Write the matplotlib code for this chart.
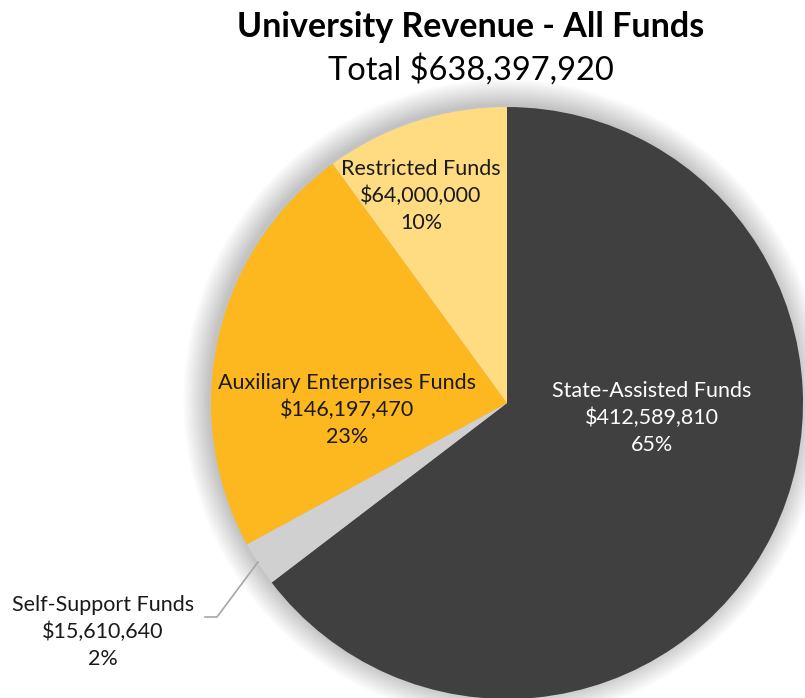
import matplotlib
matplotlib.use("Agg")
import matplotlib.pyplot as plt
from matplotlib.patches import Circle

plt.rcParams['font.family'] = ['Lato', 'DejaVu Sans']

categories = ["State-Assisted Funds", "Self-Support Funds",
              "Auxiliary Enterprises Funds", "Restricted Funds"]
values = [412589810, 15610640, 146197470, 64000000]
colors = ["#404040", "#D0D0D0", "#FDB71F", "#FFDC82"]
title = "University Revenue - All Funds"
total = sum(values)

W, H = 805, 698
fig = plt.figure(figsize=(W / 100, H / 100), dpi=100)
ax = fig.add_axes([0, 0, 1, 1])
ax.set_xlim(0, W)
ax.set_ylim(0, H)
ax.set_aspect('equal')
ax.axis('off')

cx, cy, r = 507, H - 403, 296

# soft shadow
for i in range(20):
    ax.add_patch(Circle((cx - 3, cy + 3), r + i * 1.3, color='black',
                        alpha=0.012, lw=0, zorder=0))

wedges, _ = ax.pie(values, colors=colors, startangle=90, counterclock=False,
                   center=(cx, cy), radius=r, frame=True,
                   wedgeprops=dict(linewidth=0, zorder=2))
ax.set_xlim(0, W)
ax.set_ylim(0, H)
ax.axis('off')

def lab(i, x, y):
    pct = round(values[i] / total * 100)
    txt = f"{categories[i]}\n${values[i]:,}\n{pct}%"
    ax.text(x, H - y, txt, ha='center', va='center', fontsize=15.5,
            color='#1a1a1a' if i != 0 else 'white', linespacing=1.45, zorder=5)

lab(0, 652, 418)
lab(1, 103, 632)
lab(2, 347, 410)
lab(3, 421, 196)

ax.plot([205, 217, 258], [H - 617, H - 617, H - 562], color='#A6A6A6', lw=1.2, zorder=5)

fig.text(471 / W, 1 - 27 / H, title, ha='center', va='center', fontsize=24.5,
         fontweight='bold', color='black')
fig.text(471 / W, 1 - 70 / H, f"Total ${total:,}", ha='center', va='center',
         fontsize=23.5, color='black')

fig.savefig("out.png", dpi=100)
